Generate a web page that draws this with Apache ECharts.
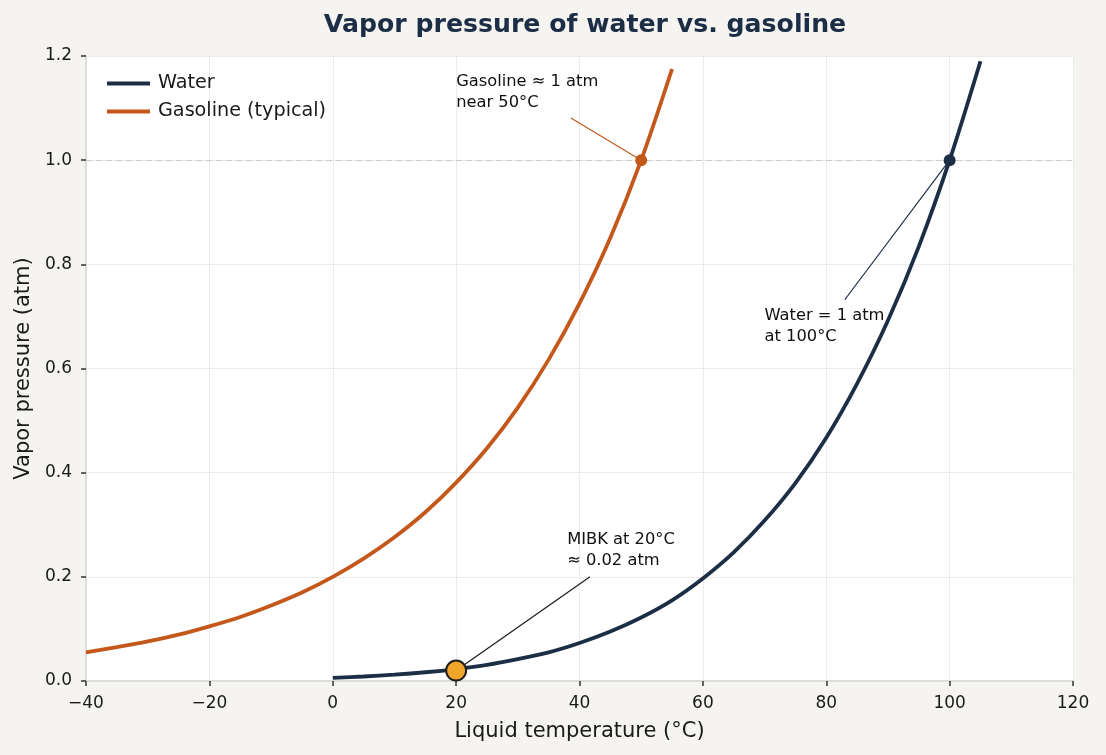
<!DOCTYPE html>
<html>
<head>
<meta charset="utf-8">
<script src="https://cdn.jsdelivr.net/npm/echarts@6/dist/echarts.min.js"></script>
<style>
  html, body { margin: 0; padding: 0; background: #f5f4f0; }
  #main { width: 1106px; height: 755px; }
</style>
</head>
<body>
<div id="main"></div>
<script>
// temperatures (°C) and vapor pressures (atm)
var waterTemps = [0, 5, 10, 15, 20, 25, 30, 35, 40, 45, 50, 55, 60, 65, 70, 75, 80, 85, 90, 95, 100, 105];
var waterAtm = [0.006, 0.0086, 0.0121, 0.0168, 0.023, 0.031, 0.042, 0.055, 0.073, 0.095, 0.122, 0.155,
  0.197, 0.247, 0.308, 0.38, 0.467, 0.571, 0.692, 0.834, 1.0, 1.19];

var gasTemps = [-40, -35, -30, -25, -20, -15, -10, -5, 0, 5, 10, 15, 20, 25, 30, 35, 40, 45, 50, 55];
var gasAtm = [0.055, 0.065, 0.076, 0.089, 0.105, 0.123, 0.145, 0.17, 0.2, 0.235, 0.276, 0.324,
  0.381, 0.447, 0.525, 0.617, 0.725, 0.851, 1.0, 1.175];

var gasPoint = [50, 1.0];
var waterPoint = [100, 1.0];
var mibkPoint = [20, 0.02];

// note text: [x, y, text] (top-left corner of the text)
var notes = [
  [20, 1.17, "Gasoline ≈ 1 atm\nnear 50°C"],
  [70, 0.721, "Water = 1 atm\nat 100°C"],
  [38, 0.291, "MIBK at 20°C\n≈ 0.02 atm"]
];
// where each note's pointer line starts
var gasNoteFrom = [38.6, 1.081];
var waterNoteFrom = [83.0, 0.732];
var mibkNoteFrom = [41.7, 0.2];

var NAVY = "#1c2e45";
var ORANGE = "#c4581a";
var FONT = "DejaVu Sans";

function zip(xs, ys) {
  var out = [];
  for (var i = 0; i < xs.length; i++) out.push([xs[i], ys[i]]);
  return out;
}

var myChart = echarts.init(document.getElementById("main"));

var option = {
  backgroundColor: "#f5f4f0",
  textStyle: { fontFamily: FONT },
  title: {
    text: "Vapor pressure of water vs. gasoline",
    left: 580,
    textAlign: "center",
    top: 8,
    textStyle: { color: NAVY, fontSize: 25.2, fontWeight: "bold", fontFamily: FONT }
  },
  legend: {
    orient: "vertical",
    left: 102,
    top: 69,
    itemWidth: 43,
    itemHeight: 4,
    itemGap: 9,
    icon: "rect",
    data: ["Water", "Gasoline (typical)"],
    textStyle: { color: "#1a1a1a", fontSize: 19.2, fontFamily: FONT, padding: [0, 0, 0, 3] }
  },
  grid: { left: 86, right: 33, top: 56, bottom: 74, backgroundColor: "#ffffff", show: true, borderWidth: 0 },
  xAxis: {
    type: "value",
    min: -40,
    max: 120,
    interval: 20,
    name: "Liquid temperature (°C)",
    nameLocation: "middle",
    nameGap: 40,
    nameTextStyle: { color: "#1a1a1a", fontSize: 21, fontFamily: FONT },
    axisLine: { show: true, onZero: false, lineStyle: { color: "#dddddd", width: 2 } },
    axisTick: { show: true, length: 5, lineStyle: { color: "#333333", width: 1.5 } },
    axisLabel: {
      color: "#1a1a1a", fontSize: 17, margin: 14, fontFamily: FONT,
      formatter: function (v) { return v < 0 ? "\u2212" + Math.abs(v) : String(v); }
    },
    splitLine: { show: true, lineStyle: { color: "#ebebeb", width: 1 } }
  },
  yAxis: {
    type: "value",
    min: 0,
    max: 1.2,
    interval: 0.2,
    name: "Vapor pressure (atm)",
    nameLocation: "middle",
    nameGap: 52,
    nameTextStyle: { color: "#1a1a1a", fontSize: 21, fontFamily: FONT },
    axisLine: { show: true, onZero: false, lineStyle: { color: "#dddddd", width: 2 } },
    axisTick: { show: true, length: 5, lineStyle: { color: "#333333", width: 1.5 } },
    axisLabel: {
      color: "#1a1a1a", fontSize: 17, margin: 14, fontFamily: FONT,
      formatter: function (v) { return v.toFixed(1); }
    },
    splitLine: { show: true, lineStyle: { color: "#ebebeb", width: 1 } }
  },
  series: [
    {
      name: "Water",
      type: "line",
      data: zip(waterTemps, waterAtm),
      smooth: 0.3,
      showSymbol: false,
      color: NAVY,
      lineStyle: { width: 3.8, color: NAVY },
      z: 3,
      markLine: {
        silent: true,
        symbol: "none",
        label: { show: false },
        data: [
          [
            { coord: [-40, 1.0], lineStyle: { color: "#cccccc", width: 1.2, type: [6, 4] } },
            { coord: [120, 1.0] }
          ],
          [
            { coord: waterNoteFrom, lineStyle: { color: NAVY, width: 1.2, type: "solid" } },
            { coord: waterPoint }
          ],
          [
            { coord: mibkNoteFrom, lineStyle: { color: "#1a1a1a", width: 1.2, type: "solid" } },
            { coord: mibkPoint }
          ]
        ]
      }
    },
    {
      name: "Gasoline (typical)",
      type: "line",
      data: zip(gasTemps, gasAtm),
      smooth: 0.3,
      showSymbol: false,
      color: ORANGE,
      lineStyle: { width: 3.8, color: ORANGE },
      z: 3,
      markLine: {
        silent: true,
        symbol: "none",
        label: { show: false },
        data: [
          [
            { coord: gasNoteFrom, lineStyle: { color: ORANGE, width: 1.2, type: "solid" } },
            { coord: gasPoint }
          ]
        ]
      }
    },
    {
      name: "points",
      type: "scatter",
      z: 5,
      data: [
        { value: gasPoint, symbolSize: 12, itemStyle: { color: ORANGE, opacity: 1 } },
        { value: waterPoint, symbolSize: 12, itemStyle: { color: NAVY, opacity: 1 } },
        { value: mibkPoint, symbolSize: 20, itemStyle: { color: "#f0a62a", borderColor: "#1f1f1f", borderWidth: 2, opacity: 1 } }
      ]
    },
    {
      name: "notes",
      type: "scatter",
      symbolSize: 0,
      z: 6,
      data: notes,
      itemStyle: { opacity: 1 },
      label: {
        show: true,
        position: [0, 0],
        align: "left",
        verticalAlign: "top",
        color: "#111111",
        opacity: 1,
        fontSize: 16.3,
        lineHeight: 21,
        fontFamily: FONT,
        formatter: function (p) { return p.value[2]; }
      }
    }
  ]
};

myChart.setOption(option);
</script>
</body>
</html>
